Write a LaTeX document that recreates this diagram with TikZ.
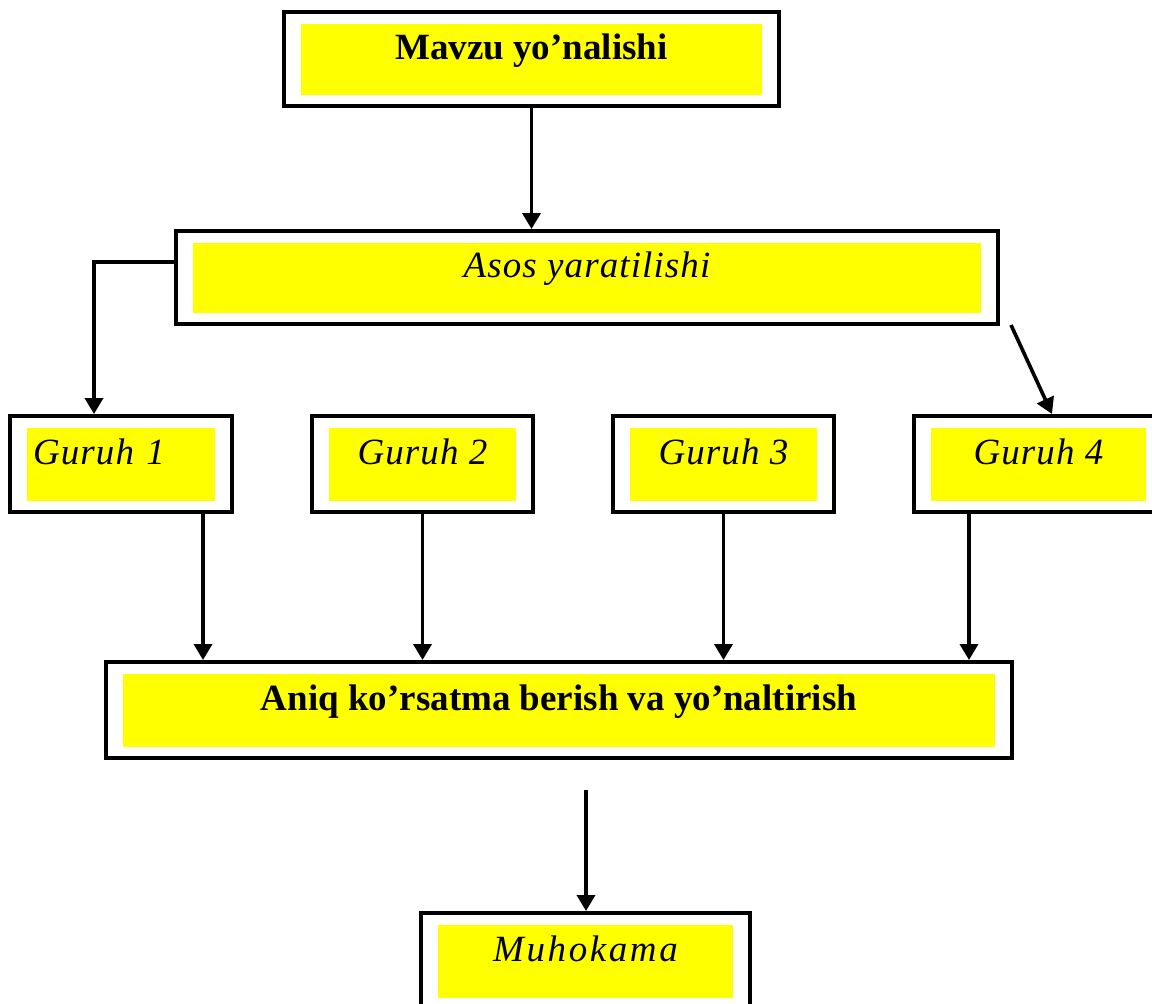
\documentclass[tikz,border=0pt]{standalone}
\usepackage{fontspec}
\setmainfont{Liberation Serif}
\newfontfamily\spacedfont[LetterSpace=3]{Liberation Serif}
\usetikzlibrary{arrows.meta,positioning}
\definecolor{boxyellow}{RGB}{255,255,0}

\begin{document}
\begin{tikzpicture}
	[x=0.5pt, y=-0.5pt,
	 framenode/.style={rectangle, draw=black, line width=2pt, fill=white, inner sep=0pt,
	   minimum height=48pt, text height=7pt, text depth=7pt,
	   path picture={\fill[boxyellow] ([shift={(8.5pt,5.5pt)}]path picture bounding box.south west)
	     rectangle ([shift={(-8.5pt,-6pt)}]path picture bounding box.north east);}},
	 boldnode/.style={framenode, font=\fontsize{18.5}{22}\selectfont\bfseries},
	 italicnode/.style={framenode, font=\spacedfont\fontsize{18.5}{22}\selectfont\itshape},
	 arrowline/.style={line width=1.8pt, -{Triangle[width=9pt,length=8pt]}},
	]

	\useasboundingbox (0,0) rectangle (1152,1003);

	\node[boldnode, minimum width=247.5pt, minimum height=47pt] (topic) at (531.5,59) {Mavzu yo’nalishi};
	\node[italicnode, minimum width=411pt, minimum height=46.5pt] (base) at (587,277.5) {Asos yaratilishi};

	\node[italicnode, minimum width=111pt, text width=88pt, align=left] (g1) at (121,464) {Guruh 1};
	\node[italicnode, minimum width=110.5pt] (g2) at (422.5,464) {Guruh 2};
	\node[italicnode, minimum width=110.5pt] (g3) at (723.5,464) {Guruh 3};
	\node[italicnode, minimum width=124.5pt] (g4) at (1038.5,464) {Guruh 4};

	\node[boldnode, minimum width=453pt] (aim) at (559,710) {Aniq ko’rsatma berish va yo’naltirish};
	\node[italicnode, minimum width=164.5pt, font=\spacedfont\fontsize{18.5}{22}\selectfont\itshape\addfontfeature{LetterSpace=7}] (talk) at (585.5,961) {Muhokama};

	\coordinate (tilt) at (1011,325);
	\coordinate (drop) at (586,790);

	\draw[arrowline] (topic.south) -- (topic.south |- base.north);
	\draw[arrowline] ([yshift=7.75pt]base.west) -| ([xshift=-13.5pt]g1.north);
	\draw[arrowline] (tilt) -- ([xshift=6.75pt]g4.north);

	\draw[arrowline] ([xshift=41pt]g1.south) -- ([xshift=41pt]g1.south |- aim.north);
	\draw[arrowline] (g2.south) -- (g2.south |- aim.north);
	\draw[arrowline] (g3.south) -- (g3.south |- aim.north);
	\draw[arrowline] ([xshift=-34.75pt]g4.south) -- ([xshift=-34.75pt]g4.south |- aim.north);

	\draw[arrowline] (drop) -- (drop |- talk.north);

\end{tikzpicture}
\end{document}
